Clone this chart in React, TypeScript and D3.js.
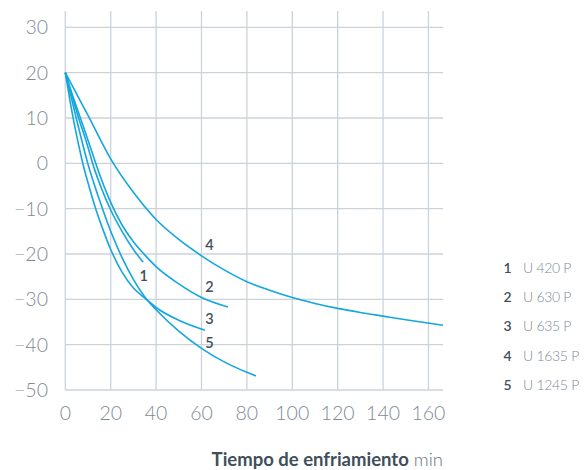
import React from 'react'
import * as d3 from 'd3'

// cooling curves: [minutes, °C]
const u420p = [[0, 20], [3, 14.8], [6, 9.8], [9, 5.2], [13, -1.5], [16, -5.6], [20, -10.3], [25, -15], [30, -19], [34.3, -21.8]]
const u630p = [[0, 20], [3, 15.3], [7, 9.5], [11, 3.6], [15, -2.3], [20, -8.6], [25, -13.6], [30, -17.3], [35, -20.2], [40, -22.8], [50, -26.6], [60, -29.6], [71.7, -31.7]]
const u635p = [[0, 20], [2, 14], [4, 8.6], [6, 3.8], [8, -0.6], [10, -4.3], [13, -9.4], [16, -13.8], [20, -19], [25, -24], [30, -27.5], [36, -30.1], [40, -31.8], [50, -34.6], [61.5, -36.8]]
const u1635p = [[0, 20], [10, 10.6], [20, 1.0], [30, -6.4], [40, -12.4], [50, -16.8], [60, -20.4], [70, -23.5], [80, -26.1], [90, -28], [100, -29.6], [110, -30.9], [120, -32], [130, -32.9], [140, -33.7], [150, -34.5], [166.4, -35.7]]
const u1245p = [[0, 20], [5, 9.6], [10, -0.2], [15, -8], [20, -15], [25, -20.8], [30, -25.6], [36, -30.1], [40, -32.3], [50, -37], [60, -40.8], [70, -43.8], [80, -46.1], [84, -46.9]]

const seriesNums = ['1', '2', '3', '4', '5']
const seriesNames = ['U 420 P', 'U 630 P', 'U 635 P', 'U 1635 P', 'U 1245 P']
const seriesData = [u420p, u630p, u635p, u1635p, u1245p]
// where the number label sits next to each curve [min, °C]
const labelAt = [[34.5, -24.7], [63.5, -27.3], [63.5, -34.2], [63.5, -18], [63.5, -39.6]]

const xTicks = [0, 20, 40, 60, 80, 100, 120, 140, 160]
const yTicks = [-50, -40, -30, -20, -10, 0, 10, 20, 30]

const gridColor = '#cbd3da'
const lineColor = '#14a6df'
const tickColor = '#7e8b95'
const darkText = '#3f4f5b'

export default function App() {
  const width = 584
  const height = 470
  const x = d3.scaleLinear().domain([0, 166.4]).range([65.3, 443])
  const y = d3.scaleLinear().domain([-50, 33.6]).range([390, 11])
  const fmt = d3.format('d')

  const line = d3.line<number[]>()
    .x(d => x(d[0]))
    .y(d => y(d[1]))
    .curve(d3.curveMonotoneX)

  const font = 'Lato, "Open Sans", sans-serif'

  return (
    <svg width={width} height={height} style={{ position: 'absolute', left: 0, top: 0 }} fontFamily={font}>
      {/* grid */}
      {xTicks.map(t => (
        <line key={`vx${t}`} x1={x(t)} x2={x(t)} y1={y(33.6)} y2={y(-50)} stroke={gridColor} strokeWidth={1.3} />
      ))}
      {yTicks.map(t => (
        <line key={`hy${t}`} x1={x(0)} x2={x(166.4)} y1={y(t)} y2={y(t)} stroke={gridColor} strokeWidth={1.3} />
      ))}

      {/* tick labels */}
      {yTicks.map(t => (
        <text key={`yl${t}`} x={48} y={y(t)} dy="0.36em" textAnchor="end" fontSize={19.5} fontWeight={300} fill={tickColor}>
          {fmt(t)}
        </text>
      ))}
      {xTicks.map(t => (
        <text key={`xl${t}`} x={x(t)} y={412.5} dy="0.36em" textAnchor="middle" fontSize={19.5} fontWeight={300} fill={tickColor}>
          {fmt(t)}
        </text>
      ))}

      {/* curves */}
      {seriesData.map((s, i) => (
        <path key={`c${i}`} d={line(s) ?? ''} fill="none" stroke={lineColor} strokeWidth={1.6} />
      ))}
      {labelAt.map((p, i) => (
        <text key={`n${i}`} x={x(p[0])} y={y(p[1])} dy="0.36em" textAnchor="middle" fontSize={14.5} fontWeight={600} fill={darkText}>
          {seriesNums[i]}
        </text>
      ))}

      {/* legend */}
      {seriesNames.map((name, i) => (
        <g key={`lg${i}`} transform={`translate(0, ${268 + i * 29.2})`}>
          <text x={507.5} dy="0.36em" textAnchor="middle" fontSize={14} fontWeight={600} fill={darkText}>{seriesNums[i]}</text>
          <text x={523} dy="0.36em" fontSize={14} fontWeight={300} letterSpacing={-0.3} fill={tickColor}>{name}</text>
        </g>
      ))}

      {/* axis title */}
      <text x={443} y={466} textAnchor="end" fontSize={18.5} fill={darkText}>
        <tspan fontWeight={700}>Tiempo de enfriamiento</tspan>
        <tspan fontWeight={300} fill="#66737d"> min</tspan>
      </text>
    </svg>
  )
}
